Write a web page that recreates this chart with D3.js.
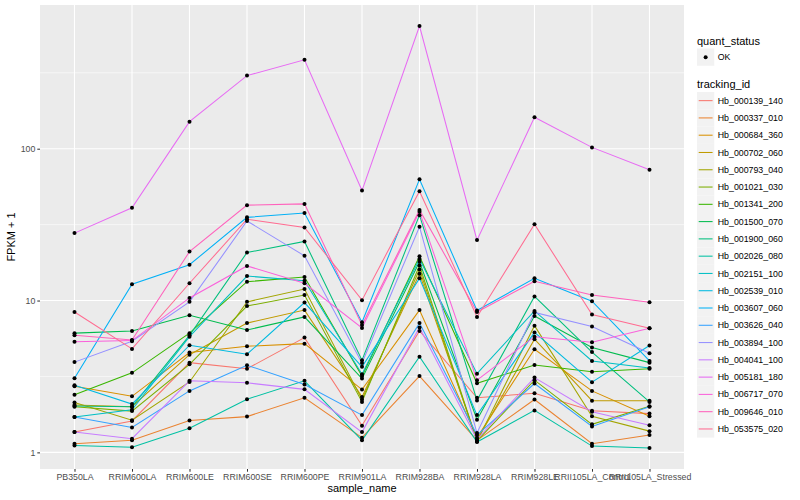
<!DOCTYPE html>
<html>
<head>
<meta charset="utf-8">
<script src="https://cdn.jsdelivr.net/npm/d3@7"></script>
<style>
  body { margin: 0; background: #fff; }
  text { font-family: "Liberation Sans", Arial, Helvetica, sans-serif; }
</style>
</head>
<body>
<svg id="chart" width="800" height="500"></svg>
<script>
// sample names on the x axis
var samples = ["PB350LA", "RRIM600LA", "RRIM600LE", "RRIM600SE", "RRIM600PE", "RRIM901LA",
  "RRIM928BA", "RRIM928LA", "RRIM928LE", "RRII105LA_Control", "RRII105LA_Stressed"];

var trackingIds = ["Hb_000139_140", "Hb_000337_010", "Hb_000684_360", "Hb_000702_060", "Hb_000793_040",
  "Hb_001021_030", "Hb_001341_200", "Hb_001500_070", "Hb_001900_060", "Hb_002026_080",
  "Hb_002151_100", "Hb_002539_010", "Hb_003607_060", "Hb_003626_040", "Hb_003894_100",
  "Hb_004041_100", "Hb_005181_180", "Hb_006717_070", "Hb_009646_010", "Hb_053575_020"];

// FPKM + 1 per tracking_id, one value per sample
var hb_000139_140 = [1.36, 1.61, 3.9, 3.55, 5.7, 1.5, 6.3, 2.29, 2.45, 1.88, 1.8];
var hb_000337_010 = [1.14, 1.2, 1.62, 1.72, 2.29, 1.25, 3.18, 1.2, 2.23, 1.14, 1.3];
var hb_000684_360 = [2.73, 2.34, 4.55, 5.0, 5.2, 2.59, 8.65, 1.25, 4.78, 2.54, 1.73];
var hb_000702_060 = [2.05, 2.0, 4.4, 7.1, 8.65, 2.32, 15, 1.2, 5.56, 2.19, 2.19];
var hb_000793_040 = [2.13, 1.63, 2.91, 9.8, 11.9, 2.23, 16, 1.18, 6.83, 1.73, 1.38];
var hb_001021_030 = [2.0, 1.87, 3.8, 9.2, 10.86, 2.15, 17, 1.19, 2.99, 1.53, 2.01];
var hb_001341_200 = [2.4, 3.34, 6.1, 13.3, 14.3, 3.18, 19.6, 2.85, 3.76, 3.4, 3.55];
var hb_001500_070 = [6.1, 6.3, 8.0, 6.4, 7.8, 3.06, 18, 1.64, 7.9, 4.9, 3.9];
var hb_001900_060 = [2.02, 2.0, 5.9, 20.7, 24.5, 4.05, 36.5, 2.2, 10.65, 4.58, 2.15];
var hb_002026_080 = [1.11, 1.08, 1.44, 2.24, 2.96, 1.2, 4.26, 1.17, 1.89, 1.10, 1.07];
var hb_002151_100 = [1.71, 1.91, 5.78, 14.5, 13.5, 3.27, 18.8, 3.3, 8.54, 4.0, 3.6];
var hb_002539_010 = [2.77, 2.08, 5.08, 4.43, 9.7, 3.66, 14.0, 1.76, 6.17, 2.9, 5.06];
var hb_003607_060 = [3.08, 12.8, 17.2, 35.3, 37.7, 7.2, 62.9, 8.6, 14.0, 9.9, 4.0];
var hb_003626_040 = [1.71, 1.46, 2.54, 3.75, 2.8, 1.76, 7.1, 1.3, 2.84, 1.48, 2.0];
var hb_003894_100 = [3.93, 5.4, 9.8, 33.4, 19.7, 3.88, 30.6, 1.34, 8.35, 6.75, 4.5];
var hb_004041_100 = [1.36, 1.23, 2.96, 2.87, 2.6, 1.36, 6.65, 1.22, 3.11, 1.85, 1.51];
var hb_005181_180 = [27.8, 40.8, 150.7, 303, 385, 53, 642, 25, 161, 102, 72.7];
var hb_006717_070 = [5.36, 5.45, 10.4, 16.9, 13.0, 6.6, 38.5, 2.99, 5.78, 5.32, 6.56];
var hb_009646_010 = [5.9, 5.5, 21, 42.5, 43.3, 6.9, 39.5, 8.4, 13.4, 10.88, 9.73];
var hb_053575_020 = [8.4, 4.8, 13.0, 34.3, 30.3, 10.06, 52.5, 7.8, 31.8, 8.1, 6.56];

var seriesValues = [hb_000139_140, hb_000337_010, hb_000684_360, hb_000702_060, hb_000793_040,
  hb_001021_030, hb_001341_200, hb_001500_070, hb_001900_060, hb_002026_080,
  hb_002151_100, hb_002539_010, hb_003607_060, hb_003626_040, hb_003894_100,
  hb_004041_100, hb_005181_180, hb_006717_070, hb_009646_010, hb_053575_020];

var yTicks = [1, 10, 100];

var series = trackingIds.map(function(id, i){
  return { id: id, values: seriesValues[i].map(function(v, j){ return { sample: samples[j], v: v }; }) };
});

// ggplot default hue palette for 20 groups
var palette = ["#F8766D", "#EA8331", "#D89000", "#C09B00", "#A3A500", "#7CAE00", "#39B600", "#00BB4E",
  "#00BF7D", "#00C1A3", "#00BFC4", "#00BAE0", "#00B0F6", "#35A2FF", "#9590FF", "#C77CFF",
  "#E76BF3", "#FA62DB", "#FF62BC", "#FF6C91"];
var color = d3.scaleOrdinal().domain(trackingIds).range(palette);

var panel = { left: 40, right: 684, top: 5, bottom: 469 };
var svg = d3.select("#chart");

var x = d3.scalePoint().domain(samples).range([panel.left, panel.right]).padding(0.6);

var allVals = [].concat.apply([], seriesValues);
var lo = Math.log10(d3.min(allVals)), hi = Math.log10(d3.max(allVals));
var pad = (hi - lo) * 0.05;
var y = d3.scaleLog().domain([Math.pow(10, lo - pad), Math.pow(10, hi + pad)]).range([panel.bottom, panel.top]);

svg.append("rect")
  .attr("x", panel.left).attr("y", panel.top)
  .attr("width", panel.right - panel.left).attr("height", panel.bottom - panel.top)
  .attr("fill", "#EBEBEB");

// minor grid (log midpoints)
var minor = [Math.sqrt(10), Math.sqrt(1000), Math.sqrt(100000)];
svg.selectAll(".minor").data(minor).enter().append("line")
  .attr("x1", panel.left).attr("x2", panel.right)
  .attr("y1", function(d){ return y(d); }).attr("y2", function(d){ return y(d); })
  .attr("stroke", "#fff").attr("stroke-width", 0.55);

svg.selectAll(".ymajor").data(yTicks).enter().append("line")
  .attr("x1", panel.left).attr("x2", panel.right)
  .attr("y1", function(d){ return y(d); }).attr("y2", function(d){ return y(d); })
  .attr("stroke", "#fff").attr("stroke-width", 1.1);

svg.selectAll(".xmajor").data(samples).enter().append("line")
  .attr("y1", panel.top).attr("y2", panel.bottom)
  .attr("x1", function(d){ return x(d); }).attr("x2", function(d){ return x(d); })
  .attr("stroke", "#fff").attr("stroke-width", 1.1);

var line = d3.line()
  .x(function(d){ return x(d.sample); })
  .y(function(d){ return y(d.v); });

svg.selectAll(".series").data(series).enter().append("path")
  .attr("d", function(d){ return line(d.values); })
  .attr("fill", "none")
  .attr("stroke", function(d){ return color(d.id); })
  .attr("stroke-width", 1.05);

series.forEach(function(s){
  svg.selectAll(null).data(s.values).enter().append("circle")
    .attr("cx", function(d){ return x(d.sample); })
    .attr("cy", function(d){ return y(d.v); })
    .attr("r", 2)
    .attr("fill", "#000");
});

// axes
var yAxis = d3.axisLeft(y).tickValues(yTicks).tickFormat(d3.format("d")).tickSize(2.7).tickPadding(2);
var gy = svg.append("g").attr("transform", "translate(" + panel.left + ",0)").call(yAxis);
var xAxis = d3.axisBottom(x).tickSize(2.7).tickPadding(2);
var gx = svg.append("g").attr("transform", "translate(0," + panel.bottom + ")").call(xAxis);
[gx, gy].forEach(function(g){
  g.select(".domain").remove();
  g.selectAll(".tick line").attr("stroke", "#333").attr("stroke-width", 1.05);
  g.selectAll(".tick text").attr("fill", "#4D4D4D").style("font-size", "8.8px")
    .style("font-family", "'Liberation Sans', Arial, sans-serif");
});

svg.append("text")
  .attr("x", (panel.left + panel.right) / 2).attr("y", 492)
  .attr("text-anchor", "middle").style("font-size", "11px").text("sample_name");

svg.append("text")
  .attr("transform", "translate(15," + ((panel.top + panel.bottom) / 2) + ") rotate(-90)")
  .attr("text-anchor", "middle").style("font-size", "11px").text("FPKM + 1");

// legends
var lx = 697, key = 17.28;
svg.append("text").attr("x", lx).attr("y", 45).style("font-size", "11px").text("quant_status");
svg.append("rect").attr("x", lx).attr("y", 48.5).attr("width", key).attr("height", key).attr("fill", "#F2F2F2");
svg.append("circle").attr("cx", lx + key / 2).attr("cy", 48.5 + key / 2).attr("r", 2).attr("fill", "#000");
svg.append("text").attr("x", lx + key + 3.5).attr("y", 48.5 + key / 2 + 3.1).style("font-size", "8.8px").text("OK");

svg.append("text").attr("x", lx).attr("y", 88).style("font-size", "11px").text("tracking_id");
var items = svg.selectAll(".leg").data(trackingIds).enter().append("g")
  .attr("transform", function(d, i){ return "translate(" + lx + "," + (92 + i * key) + ")"; });
items.append("rect").attr("width", key).attr("height", key).attr("fill", "#F2F2F2");
items.append("line").attr("x1", 1.7).attr("x2", key - 1.7).attr("y1", key / 2).attr("y2", key / 2)
  .attr("stroke", function(d){ return color(d); }).attr("stroke-width", 1.05);
items.append("text").attr("x", key + 3.5).attr("y", key / 2 + 3.1).style("font-size", "8.8px").text(function(d){ return d; });
</script>
</body>
</html>
